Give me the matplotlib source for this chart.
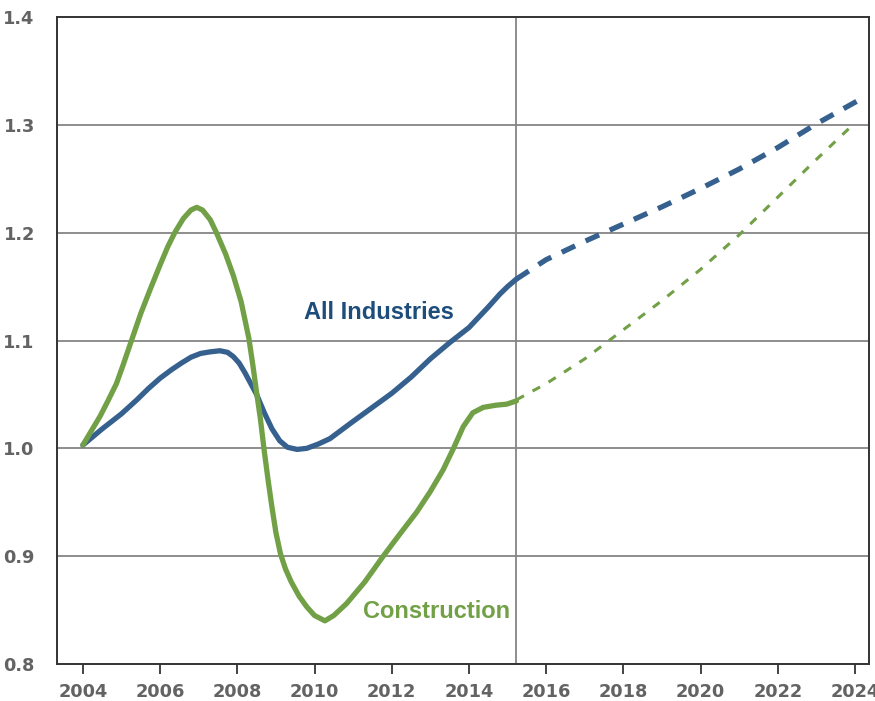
import matplotlib
matplotlib.use("Agg")
import matplotlib.pyplot as plt

# ── Data ─────────────────────────────────────────────────────────────────────

# All Industries, actual (solid)
all_years = [2004.0, 2004.5, 2005.0, 2005.4, 2005.7, 2006.0, 2006.3, 2006.55,
             2006.8, 2007.05, 2007.3, 2007.55, 2007.75, 2007.9, 2008.05, 2008.2,
             2008.35, 2008.5, 2008.7, 2008.9, 2009.1, 2009.3, 2009.55, 2009.8,
             2010.1, 2010.4, 2010.7, 2011.0, 2011.5, 2012.0, 2012.5, 2013.0,
             2013.5, 2014.0, 2014.5, 2014.8, 2015.0, 2015.23]
all_vals = [1.003, 1.018, 1.032, 1.045, 1.0555, 1.065, 1.073, 1.079,
            1.0845, 1.088, 1.0895, 1.0905, 1.089, 1.085, 1.079, 1.070,
            1.060, 1.050, 1.033, 1.018, 1.007, 1.001, 0.999, 1.000,
            1.004, 1.009, 1.017, 1.025, 1.038, 1.051, 1.066, 1.083,
            1.098, 1.112, 1.131, 1.143, 1.150, 1.157]

# All Industries, projection (dashed)
all_proj_years = [2015.23, 2016, 2017, 2018, 2019, 2020, 2021, 2022, 2023, 2024, 2024.15]
all_proj_vals = [1.157, 1.175, 1.192, 1.208, 1.224, 1.241, 1.259, 1.279, 1.301, 1.321, 1.324]

# Construction, actual (solid)
con_years = [2004.0, 2004.45, 2004.65, 2004.87, 2005.05, 2005.26, 2005.5, 2005.74,
             2006.0, 2006.2, 2006.38, 2006.6, 2006.8, 2006.95, 2007.1, 2007.3,
             2007.46, 2007.7, 2007.9, 2008.1, 2008.3, 2008.4, 2008.5, 2008.6,
             2008.69, 2008.8, 2008.9, 2009.0, 2009.12, 2009.25, 2009.4, 2009.6,
             2009.8, 2010.0, 2010.27, 2010.5, 2010.83, 2011.3, 2011.78, 2012.2,
             2012.65, 2013.0, 2013.33, 2013.6, 2013.85, 2014.1, 2014.37, 2014.7,
             2014.98, 2015.23]
con_vals = [1.003, 1.030, 1.044, 1.060, 1.078, 1.100, 1.125, 1.147,
            1.170, 1.187, 1.200, 1.213, 1.221, 1.2235, 1.221, 1.212,
            1.200, 1.180, 1.160, 1.136, 1.102, 1.078, 1.052, 1.027,
            1.000, 0.970, 0.945, 0.922, 0.902, 0.888, 0.876, 0.863,
            0.853, 0.845, 0.840, 0.845, 0.856, 0.876, 0.900, 0.920,
            0.941, 0.960, 0.980, 1.000, 1.020, 1.033, 1.038, 1.040,
            1.041, 1.044]

# Construction, projection (dashed)
con_proj_years = [2015.23, 2016, 2017, 2018, 2019, 2020, 2021, 2022, 2023, 2024]
con_proj_vals = [1.045, 1.060, 1.083, 1.110, 1.137, 1.166, 1.198, 1.233, 1.268, 1.302]

x_ticks = list(range(2004, 2025, 2))
y_ticks = [0.8, 0.9, 1.0, 1.1, 1.2, 1.3, 1.4]
divider_year = 2015.23

BLUE = "#36618f"
BLUE_TXT = "#1d4d7b"
GREEN = "#72a046"
GRID = "#858585"
TICK_TXT = "#636363"

# ── Plot ─────────────────────────────────────────────────────────────────────

fig = plt.figure(figsize=(8.75, 7.01), dpi=100)
ax = fig.add_axes([0.0651, 0.0528, 0.928, 0.9229])

ax.set_xlim(2003.33, 2024.36)
ax.set_ylim(0.8, 1.4)

for y in y_ticks[1:-1]:
    ax.axhline(y, color=GRID, lw=1.3, zorder=1)
ax.axvline(divider_year, color=GRID, lw=1.3, zorder=1)

ax.plot(all_years, all_vals, color=BLUE, lw=3.8, solid_capstyle="round",
        solid_joinstyle="round", zorder=3)
ax.plot(con_years, con_vals, color=GREEN, lw=3.8, solid_capstyle="round",
        solid_joinstyle="round", zorder=3)
ax.plot(all_proj_years, all_proj_vals, color=BLUE, lw=3.8,
        dashes=(2.8, 2.2), dash_capstyle="butt", zorder=3)
ax.plot(con_proj_years, con_proj_vals, color=GREEN, lw=2.2,
        dashes=(2.8, 3.2), dash_capstyle="butt", zorder=3)

lab_font = ["Liberation Sans", "DejaVu Sans"]
ax.text(2011.67, 1.1196, "All Industries", color=BLUE_TXT, fontsize=17,
        fontweight="bold", family=lab_font, ha="center", va="baseline")
ax.text(2013.17, 0.8422, "Construction", color=GREEN, fontsize=17,
        fontweight="bold", family=lab_font, ha="center", va="baseline")

ax.set_xticks(x_ticks)
ax.set_xticklabels([str(t) for t in x_ticks])
ax.set_yticks(y_ticks)
ax.set_yticklabels([f"{t:.1f}" for t in y_ticks])
ax.tick_params(axis="x", direction="out", length=7, width=1.2, color="#222",
               pad=7, labelsize=12.8, labelcolor=TICK_TXT)
ax.tick_params(axis="y", length=0, pad=16, labelsize=12.8, labelcolor=TICK_TXT)
for lab in ax.get_xticklabels() + ax.get_yticklabels():
    lab.set_fontweight("bold")

for s in ax.spines.values():
    s.set_color("#333333")
    s.set_linewidth(1.4)

fig.savefig("out.png", dpi=100)
